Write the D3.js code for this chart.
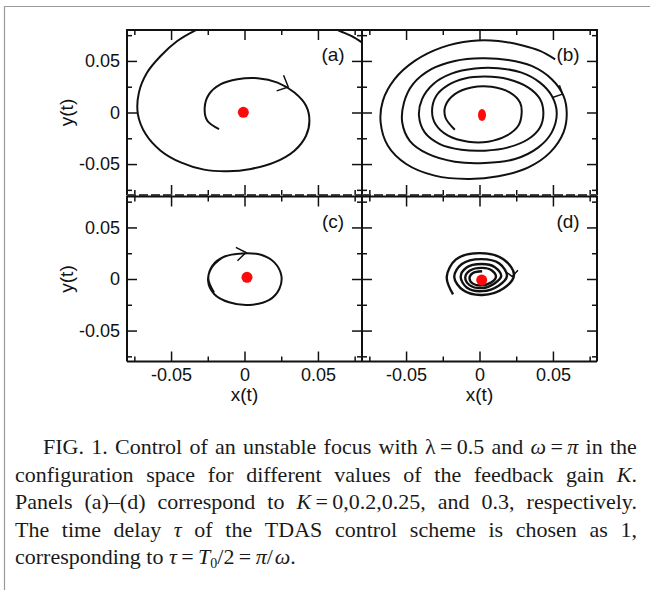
<!DOCTYPE html>
<html>
<head>
<meta charset="utf-8">
<script src="https://cdn.jsdelivr.net/npm/d3@7"></script>
<style>
body { margin: 0; background: #fff; }
#container { position: relative; width: 650px; height: 590px; }
#container svg { position: absolute; left: 0; top: 0; }
#caption { position: absolute; left: 15px; top: 433px; width: 622px;
  font-family: "Liberation Serif", "Times New Roman", serif; font-size: 22px;
  line-height: 27.5px; color: #1a1a1a; }
#caption .ln { display: flex; justify-content: space-between; white-space: nowrap; height: 27.5px; }
#caption .first { padding-left: 28px; }
#caption .last { display: block; white-space: nowrap; }
#caption sub { font-size: 14px; line-height: 0; vertical-align: -4px; }
</style>
</head>
<body>
<div id="container">
  <div id="caption">
    <div class="ln first"><span>FIG.</span><span>1.</span><span>Control</span><span>of</span><span>an</span><span>unstable</span><span>focus</span><span>with</span><span>λ&#8201;=&#8201;0.5</span><span>and</span><span><i>ω</i>&#8201;=&#8201;<i>π</i></span><span>in</span><span>the</span></div>
    <div class="ln"><span>configuration</span><span>space</span><span>for</span><span>different</span><span>values</span><span>of</span><span>the</span><span>feedback</span><span>gain</span><span><i>K</i>.</span></div>
    <div class="ln"><span>Panels</span><span>(a)–(d)</span><span>correspond</span><span>to</span><span><i>K</i>&#8201;=&#8201;0,0.2,0.25,</span><span>and</span><span>0.3,</span><span>respectively.</span></div>
    <div class="ln"><span>The</span><span>time</span><span>delay</span><span><i>τ</i></span><span>of</span><span>the</span><span>TDAS</span><span>control</span><span>scheme</span><span>is</span><span>chosen</span><span>as</span><span>1,</span></div>
    <div class="last">corresponding to <i>τ</i>&#8201;=&#8201;<i>T</i><sub>0</sub>/2&#8201;=&#8201;<i>π</i>/&#8202;<i>ω</i>.</div>
  </div>
</div>
<script>
// axis ticks
const majorTicks = [-0.05, 0, 0.05];
const minorTicks = [-0.075, -0.025, 0.025, 0.075];
const tickLabels = ["-0.05", "0", "0.05"];
const panelNames = ["(a)", "(b)", "(c)", "(d)"];

// trajectories x(t), y(t)
const trajA = [[-0.0173,-0.0161],[-0.0253,-0.008],[-0.0271,0.0048],[-0.0241,0.0178],[-0.0161,0.0275],
  [-0.0048,0.0323],[0.0089,0.0333],[0.0225,0.029],[0.034,0.0193],[0.0419,0.0065],[0.0442,-0.008],
  [0.0419,-0.0225],[0.034,-0.037],[0.0203,-0.0484],[0.0044,-0.0547],[-0.0116,-0.057],[-0.0275,-0.0554],
  [-0.0434,-0.0484],[-0.0571,-0.037],[-0.0673,-0.0209],[-0.0726,-0.0015],[-0.0719,0.0193],[-0.0663,0.0387],
  [-0.0571,0.0548],[-0.0458,0.0693],[-0.0344,0.079],[-0.02,0.088],[0.0,0.094],[0.02,0.095],[0.04,0.092],
  [0.055,0.086],[0.065,0.079],[0.073,0.074],[0.081,0.067],[0.09,0.058]];

const trajB = [[-0.0168,-0.0167],[-0.0232,-0.0048],[-0.0232,0.0065],[-0.0168,0.0178],[-0.0055,0.0242],
  [0.0082,0.0249],[0.0208,0.0193],[0.0276,0.0097],[0.0287,-0.0006],[0.0264,-0.0129],[0.0184,-0.0225],
  [0.0059,-0.0283],[-0.0077,-0.0283],[-0.0214,-0.0225],[-0.03,-0.0112],[-0.0323,0.0016],[-0.0294,0.0162],
  [-0.0214,0.0265],[-0.01,0.0329],[0.0037,0.0348],[0.0196,0.0323],[0.0333,0.0242],[0.0412,0.013],
  [0.0435,-0.0006],[0.0412,-0.0145],[0.0333,-0.0257],[0.0196,-0.0338],[0.0037,-0.037],[-0.0123,-0.0361],
  [-0.027,-0.0306],[-0.0373,-0.0193],[-0.0412,-0.0032],[-0.0391,0.013],[-0.0316,0.0275],[-0.0191,0.0377],
  [-0.0031,0.0426],[0.0128,0.0429],[0.0287,0.0387],[0.0412,0.029],[0.0492,0.0162],[0.0526,-0.0006],
  [0.0492,-0.0193],[0.0401,-0.0338],[0.0242,-0.0451],[0.0037,-0.0489],[-0.0168,-0.0477],[-0.035,-0.0402],
  [-0.0475,-0.0274],[-0.0526,-0.0097],[-0.0514,0.0097],[-0.0453,0.0275],[-0.0328,0.042],[-0.0168,0.05],
  [0.0014,0.0526],[0.0196,0.051],[0.0355,0.0452],[0.0492,0.0323],[0.0572,0.0162],[0.0594,-0.0006],
  [0.0572,-0.0193],[0.0481,-0.0387],[0.0333,-0.0532],[0.0128,-0.0619],[-0.0077,-0.0644],[-0.0305,-0.0612],
  [-0.0499,-0.0499],[-0.0624,-0.0322],[-0.0673,-0.0097],[-0.0658,0.0113],[-0.0578,0.0323],[-0.0441,0.05],
  [-0.026,0.0629],[-0.0055,0.0693],[0.0128,0.0693],[0.0287,0.0652],[0.0412,0.0597],[0.0515,0.0516]];

const trajC = [[-0.0207,-0.013],[-0.0246,0],[-0.0219,0.0129],[-0.0139,0.0216],[-0.0014,0.0248],
  [0.0112,0.0235],[0.0203,0.0161],[0.0251,0.0032],[0.0237,-0.0097],[0.0169,-0.0203],[0.0032,-0.0251],
  [-0.0105,-0.0226],[-0.0207,-0.0145],[-0.0248,-0.0016],[-0.0223,0.0112],[-0.015,0.0209]];

const trajD = [[-0.018,-0.015],[-0.0223,0.002],[-0.016,0.019],[0.0,0.0251],[0.0165,0.019],
  [0.0235,0.004],[0.0165,-0.009],[0.002,-0.0155],[-0.011,-0.011],
  [-0.0172,0.002],[-0.012,0.0145],[0.001,0.0193],[0.0135,0.015],[0.0187,0.003],[0.013,-0.0065],
  [0.002,-0.0118],[-0.0085,-0.0085],
  [-0.0128,0.002],[-0.009,0.011],[0.0015,0.0145],[0.0105,0.0115],[0.0148,0.003],[0.01,-0.0045],
  [0.0018,-0.0088],[-0.0065,-0.0062],
  [-0.0097,0.0015],[-0.0065,0.0082],[0.0018,0.0108],[0.0082,0.0085],[0.0112,0.002],[0.0078,-0.0035],
  [0.0018,-0.0062],[-0.0045,-0.0045],
  [-0.0068,0.001],[-0.0045,0.0058],[0.0018,0.0075]];

// arrow heads (arm, tip, arm)
const arrowA = [[0.0266,0.0362],[0.0298,0.0247],[0.0219,0.021]];
const arrowB = [[0.0544,0.0265],[0.0565,0.0178],[0.0497,0.0145]];
const arrowC = [[-0.0059,0.0306],[0.001,0.0257],[-0.0048,0.0177]];
const arrowD = [[0.0174,0.0075],[0.0222,0.0025],[0.0262,0.0085]];

// position of the fixed point (red dot)
const focusA = [-0.0008, 0.0002];
const focusB = [0.0017, -0.0024];
const focusC = [0.0017, 0.0016];
const focusD = [0.0015, -0.001];

const pw = 235, ph = 165;
const panels = [
  {name: panelNames[0], left: 127, top: 30,    traj: trajA, arrow: arrowA, focus: focusA, rx: 5.5, ry: 5.5, col: 0, row: 0},
  {name: panelNames[1], left: 362, top: 30,    traj: trajB, arrow: arrowB, focus: focusB, rx: 4,   ry: 6,   col: 1, row: 0},
  {name: panelNames[2], left: 127, top: 196.5, traj: trajC, arrow: arrowC, focus: focusC, rx: 5.5, ry: 5.5, col: 0, row: 1},
  {name: panelNames[3], left: 362, top: 196.5, traj: trajD, arrow: arrowD, focus: focusD, rx: 5.5, ry: 5.5, col: 1, row: 1}
];

const svg = d3.select("#container")
    .insert("svg", "#caption")
    .attr("width", 650)
    .attr("height", 590);

// page frame
svg.append("path")
    .attr("d", "M4.5,590V6.5H650")
    .attr("fill", "none")
    .attr("stroke", "#9a9a9a")
    .attr("stroke-width", 1.2);

const defs = svg.append("defs");

panels.forEach((p, i) => {
    const x = d3.scaleLinear().domain([-0.08, 0.08]).range([p.left, p.left + pw]);
    const y = d3.scaleLinear().domain([-0.08, 0.08]).range([p.top + ph, p.top]);
    const g = svg.append("g").attr("class", "panel");

    defs.append("clipPath").attr("id", "clip" + i)
        .append("rect")
        .attr("x", p.left).attr("y", p.top)
        .attr("width", pw).attr("height", ph);

    const line = d3.line()
        .x(d => x(d[0]))
        .y(d => y(d[1]))
        .curve(d3.curveCatmullRom.alpha(0.5));

    g.append("path")
        .datum(p.traj)
        .attr("d", line)
        .attr("clip-path", "url(#clip" + i + ")")
        .attr("fill", "none")
        .attr("stroke", "#111")
        .attr("stroke-width", i == 3 ? 2.4 : 2);

    g.append("path")
        .datum(p.arrow)
        .attr("d", d3.line().x(d => x(d[0])).y(d => y(d[1])))
        .attr("fill", "none")
        .attr("stroke", "#111")
        .attr("stroke-width", 1.5);

    g.append("ellipse")
        .attr("cx", x(p.focus[0]))
        .attr("cy", y(p.focus[1]))
        .attr("rx", p.rx)
        .attr("ry", p.ry)
        .attr("fill", "#ff0a0a");

    // ticks on all four sides, pointing inwards
    const showY = p.col == 0, showX = p.row == 1;
    const axes = [
        {axis: d3.axisLeft(y),   t: "translate(" + p.left + ",0)",        lab: showY},
        {axis: d3.axisRight(y),  t: "translate(" + (p.left + pw) + ",0)", lab: false},
        {axis: d3.axisTop(x),    t: "translate(0," + p.top + ")",         lab: false},
        {axis: d3.axisBottom(x), t: "translate(0," + (p.top + ph) + ")",  lab: showX}
    ];
    axes.forEach(a => {
        a.axis.tickValues(majorTicks).tickSize(-10).tickPadding(7)
            .tickFormat((d, k) => a.lab ? tickLabels[k] : "");
        const ga = g.append("g").attr("transform", a.t).call(a.axis);
        ga.select(".domain").remove();
        ga.selectAll("line").attr("stroke", "#111").attr("stroke-width", 1.5);
        ga.selectAll("text")
            .attr("font-family", "'Liberation Sans', Arial, sans-serif")
            .attr("font-size", 18)
            .attr("fill", "#111");
        a.axis.tickValues(minorTicks).tickSize(-5).tickFormat("");
        const gm = g.append("g").attr("transform", a.t).call(a.axis);
        gm.select(".domain").remove();
        gm.selectAll("line").attr("stroke", "#111").attr("stroke-width", 1.5);
    });

    // frame
    const l = p.left, r = p.left + pw, t = p.top, b = p.top + ph;
    g.append("path")
        .attr("d", "M" + l + "," + b + "V" + t + "H" + r + "V" + b)
        .attr("fill", "none")
        .attr("stroke", "#111")
        .attr("stroke-width", 2);
    g.append("line")
        .attr("x1", l).attr("x2", r).attr("y1", b).attr("y2", b)
        .attr("stroke", p.row == 0 ? "#444" : "#111")
        .attr("stroke-width", 2)
        .attr("stroke-dasharray", p.row == 0 ? "9,3" : null);

    g.append("text")
        .attr("x", p.left + 206)
        .attr("y", p.top + 31)
        .attr("text-anchor", "middle")
        .attr("font-family", "'Liberation Sans', Arial, sans-serif")
        .attr("font-size", 19)
        .attr("fill", "#111")
        .text(p.name);

    if (showX) {
        g.append("text")
            .attr("x", p.left + pw / 2)
            .attr("y", 401)
            .attr("text-anchor", "middle")
            .attr("font-family", "'Liberation Sans', Arial, sans-serif")
            .attr("font-size", 19)
            .attr("fill", "#111")
            .text("x(t)");
    }
    if (showY) {
        g.append("text")
            .attr("transform", "translate(73," + (p.top + ph / 2) + ") rotate(-90)")
            .attr("text-anchor", "middle")
            .attr("font-family", "'Liberation Sans', Arial, sans-serif")
            .attr("font-size", 19)
            .attr("fill", "#111")
            .text("y(t)");
    }
});
</script>
</body>
</html>
